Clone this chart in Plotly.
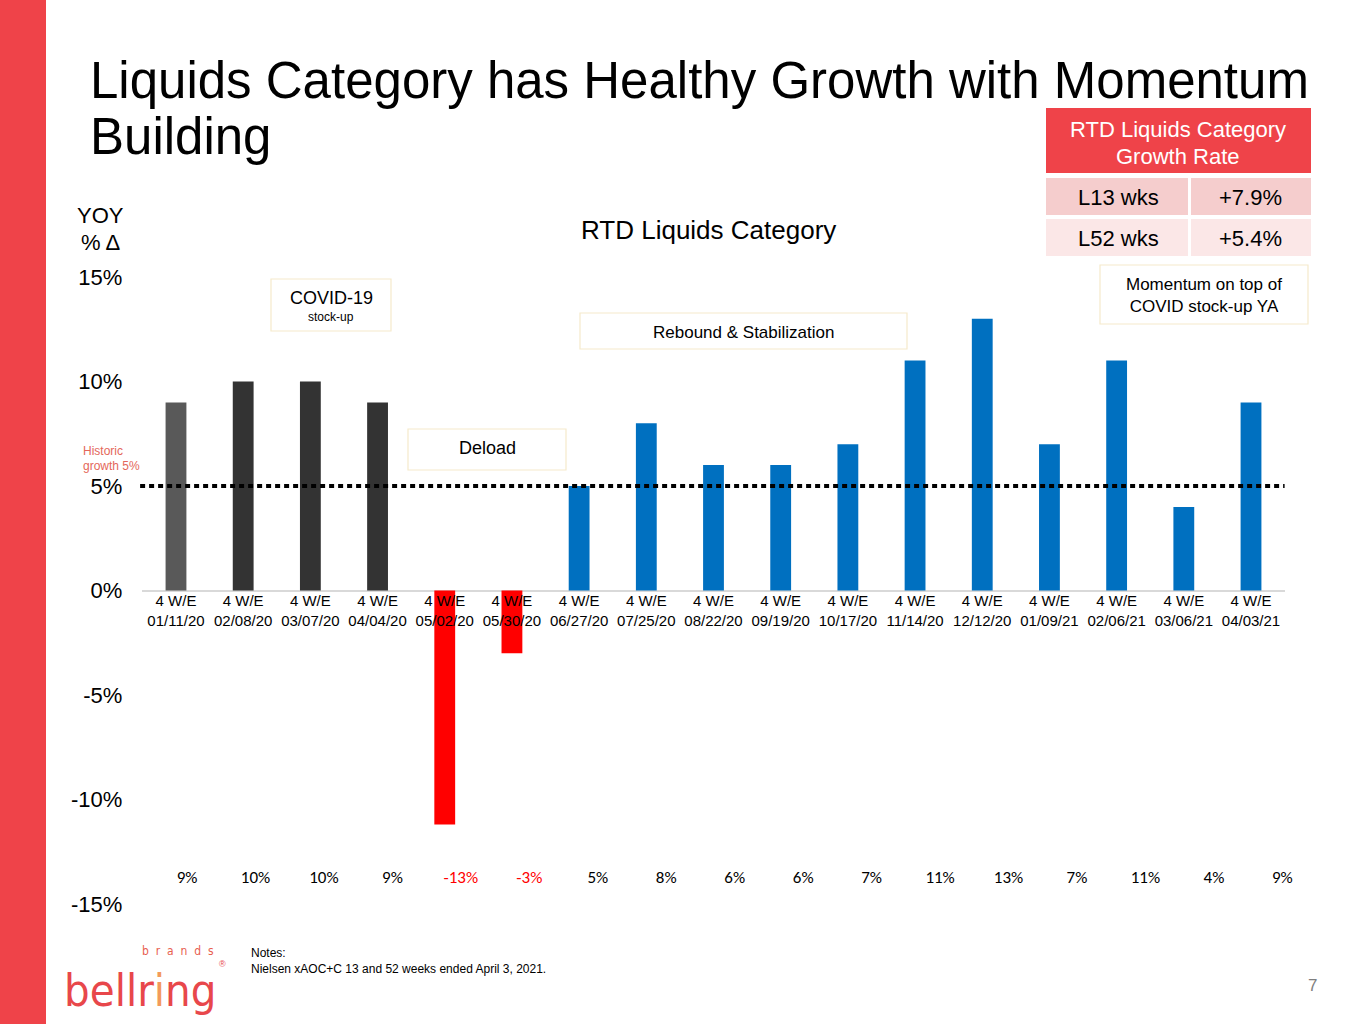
import plotly.graph_objects as go

W, H = 1365, 1024


def px(x):
    return x / W


def py(y):
    return 1 - y / H


# Donnees
periods = ["4 W/E<br>01/11/20", "4 W/E<br>02/08/20", "4 W/E<br>03/07/20", "4 W/E<br>04/04/20",
           "4 W/E<br>05/02/20", "4 W/E<br>05/30/20", "4 W/E<br>06/27/20", "4 W/E<br>07/25/20",
           "4 W/E<br>08/22/20", "4 W/E<br>09/19/20", "4 W/E<br>10/17/20", "4 W/E<br>11/14/20",
           "4 W/E<br>12/12/20", "4 W/E<br>01/09/21", "4 W/E<br>02/06/21", "4 W/E<br>03/06/21",
           "4 W/E<br>04/03/21"]
yoy_growth = [9, 10, 10, 9, -11.2, -3, 5, 8, 6, 6, 7, 11, 13, 7, 11, 4, 9]
yoy_labels = ["9%", "10%", "10%", "9%", "-13%", "-3%", "5%", "8%", "6%", "6%",
              "7%", "11%", "13%", "7%", "11%", "4%", "9%"]
historic_growth = 5
y_ticks = [-15, -10, -5, 0, 5, 10, 15]
y_tick_labels = ["-15%", "-10%", "-5%", "0%", "5%", "10%", "15%"]
table_rows = ["L13 wks", "L52 wks"]
table_values = ["+7.9%", "+5.4%"]

# Couleurs par periode
bar_colors = ["#595959"] + ["#333333"] * 3 + ["#FF0000"] * 2 + ["#0070C0"] * 11
label_colors = ["#000000"] * 4 + ["#FF0000"] * 2 + ["#000000"] * 11

RED = "#EF4349"
FONT = "Liberation Sans, Arial, sans-serif"
BOX_LINE = "#F6EACB"

fig = go.Figure()

fig.add_trace(go.Bar(
    x=periods, y=yoy_growth,
    marker=dict(color=bar_colors, line=dict(width=0)),
    width=0.31,
    showlegend=False,
    hovertemplate="%{x}<br>%{y}%<extra></extra>",
))

# Ligne des valeurs en bas du graphique
fig.add_trace(go.Scatter(
    x=periods, y=[0.5] * len(periods),
    xaxis="x2", yaxis="y2",
    mode="text",
    text=yoy_labels,
    textfont=dict(family="Carlito, Lato, sans-serif", size=17, color=label_colors),
    showlegend=False, hoverinfo="skip",
))

shapes = [
    # bandeau rouge a gauche
    dict(type="rect", xref="paper", yref="paper", x0=0, x1=px(46), y0=0, y1=1,
         fillcolor=RED, line=dict(width=0), layer="below"),
    # croissance historique
    dict(type="line", xref="x domain", yref="y", x0=-0.002, x1=1, y0=historic_growth, y1=historic_growth,
         line=dict(color="black", width=4, dash="5px,4px"), layer="above"),
    # tableau
    dict(type="rect", xref="paper", yref="paper", x0=px(1046), x1=px(1311), y0=py(173), y1=py(108),
         fillcolor=RED, line=dict(width=0)),
]
row_fills = ["#F5CDCD", "#FBE7E7"]
row_tops = [178, 219]
for top, fill in zip(row_tops, row_fills):
    shapes.append(dict(type="rect", xref="paper", yref="paper", x0=px(1046), x1=px(1188),
                       y0=py(top + 37), y1=py(top), fillcolor=fill, line=dict(width=0)))
    shapes.append(dict(type="rect", xref="paper", yref="paper", x0=px(1191), x1=px(1311),
                       y0=py(top + 37), y1=py(top), fillcolor=fill, line=dict(width=0)))

# encadres
for x0, x1, y0, y1 in [(271, 391, 279, 331), (580, 907, 313, 349), (408, 566, 429, 470), (1100, 1308, 265, 324)]:
    shapes.append(dict(type="rect", xref="paper", yref="paper", x0=px(x0), x1=px(x1), y0=py(y1), y1=py(y0),
                       fillcolor="white", line=dict(color=BOX_LINE, width=1.2)))

annotations = []


def note(text, x, y, size, color="black", xanchor="center", family=FONT):
    annotations.append(dict(text=text, x=px(x), y=py(y), xref="paper", yref="paper",
                            xanchor=xanchor, yanchor="middle", showarrow=False, align=xanchor,
                            font=dict(family=family, size=size, color=color)))


note("Liquids Category has Healthy Growth with Momentum", 88, 80, 51, xanchor="left")
note("Building", 88, 136, 51, xanchor="left")
note("RTD Liquids Category", 708, 230, 26)
note("YOY", 100, 215, 22)
note("% Δ", 100, 242, 22)
note("Historic", 81, 451, 12, color="#E4675A", xanchor="left")
note("growth 5%", 81, 466, 12, color="#E4675A", xanchor="left")
note("COVID-19", 331, 298, 18)
note("stock-up", 331, 317, 12)
note("Rebound &amp; Stabilization", 744, 332, 17)
note("Deload", 487, 448, 18)
note("Momentum on top of<br>COVID stock-up YA", 1204, 295, 17)

note("RTD Liquids Category", 1178, 129, 22, color="white")
note("Growth Rate", 1178, 156, 22, color="white")
for top, lbl, val in zip(row_tops, table_rows, table_values):
    note(lbl, 1118, top + 19, 22)
    note(val, 1250, top + 19, 22)

note("Notes:<br>Nielsen xAOC+C 13 and 52 weeks ended April 3, 2021.", 249, 961, 12, xanchor="left")
note("7", 1312, 985, 17, color="#7F7F7F")

# logo
note("bellr<span style='color:#F39A5B'>i</span>ng", 140, 990, 45, color="#E8474B",
     family="Liberation Sans Narrow, DejaVu Sans Condensed, sans-serif")
note("b  r  a  n  d  s", 178, 951, 12, color="#E8604F",
     family="Liberation Sans Narrow, DejaVu Sans Condensed, sans-serif")
note("®", 222, 964, 9, color="#E8474B")

fig.update_layout(
    width=W, height=H,
    margin=dict(l=0, r=0, t=0, b=0, autoexpand=False),
    paper_bgcolor="white", plot_bgcolor="white",
    font=dict(family=FONT, color="black"),
    bargap=0.69,
    xaxis=dict(
        domain=[px(142.4), px(1284.6)],
        anchor="free", position=py(590),
        type="category", automargin=False,
        showline=False, showgrid=False, ticks="",
        tickfont=dict(size=15, color="black"),
        fixedrange=True,
    ),
    yaxis=dict(
        domain=[py(904), py(277)],
        range=[-15, 15], automargin=False,
        tickvals=y_ticks, ticktext=y_tick_labels,
        tickfont=dict(size=22, color="black"),
        showgrid=False, showline=False, ticks="",
        zeroline=True, zerolinecolor="#D9D9D9", zerolinewidth=2,
        ticklabelstandoff=19,
        fixedrange=True,
    ),
    xaxis2=dict(
        domain=[px(152.8), px(1316.6)],
        range=[-0.5, len(periods) - 0.5], automargin=False,
        anchor="y2", type="category", visible=False, fixedrange=True,
    ),
    yaxis2=dict(
        domain=[py(890), py(868)], automargin=False,
        range=[0, 1], anchor="x2", visible=False, fixedrange=True,
    ),
    shapes=shapes,
    annotations=annotations,
)

# page sans marge : le graphique commence au coin haut gauche
fig.write_html("out.html", config={"displayModeBar": False},
               post_script="document.body.style.margin='0px';")
